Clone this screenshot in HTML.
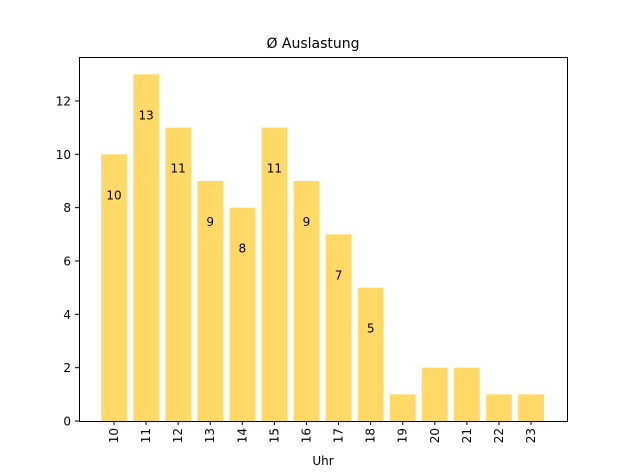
<!DOCTYPE html>
<html><head><meta charset="utf-8"><style>
body{margin:0;background:#fff;}
svg{display:block;font-family:"DejaVu Sans","Liberation Sans",sans-serif;}
</style></head><body>
<svg id="chart" width="630" height="473" xmlns="http://www.w3.org/2000/svg">
<text x="313" y="48" font-size="14" text-anchor="middle">Ø Auslastung</text>
<g id="bars"></g>
<g id="yaxis"></g>
<g id="xaxis"></g>
<rect x="79.5" y="57.5" width="488" height="364" fill="none" stroke="#000" stroke-width="1"/>
<text x="323" y="465" font-size="12" text-anchor="middle">Uhr</text>
</svg>
<script>
const categories = ["10","11","12","13","14","15","16","17","18","19","20","21","22","23"];
const values = [10,13,11,9,8,11,9,7,5,1,2,2,1,1];
const yTicks = [0,2,4,6,8,10,12];
const NS="http://www.w3.org/2000/svg";
const x0=114, step=32.08, bw=25.7;
function xs(i){return x0+i*step;}
function ys(v){return 421-v*26.67;}
function mk(tag,attrs,parent){const e=document.createElementNS(NS,tag);for(const k in attrs)e.setAttribute(k,attrs[k]);parent.appendChild(e);return e;}
const bars=document.getElementById('bars'),ya=document.getElementById('yaxis'),xa=document.getElementById('xaxis');
values.forEach((v,i)=>{
  const r=mk('rect',{x:xs(i)-bw/2,y:ys(v),width:bw,height:421-ys(v),fill:'#ffd966'},bars);
  
  
  if(v>=5){
    const t=mk('text',{x:xs(i),y:ys(v-1.5)+5,'font-size':12,'text-anchor':'middle'},bars);
    t.textContent=v;
    
    
  }
  const tk=mk('line',{x1:xs(i),x2:xs(i),y1:421,y2:425,stroke:'#000'},xa);
  
  
  const lb=mk('text',{x:0,y:0,'font-size':12,'text-anchor':'end',transform:`translate(${xs(i)+4},428) rotate(-90)`},xa);
  lb.textContent=categories[i];
  
  
});
yTicks.forEach(v=>{
  const tk=mk('line',{x1:75,x2:79.5,y1:ys(v),y2:ys(v),stroke:'#000'},ya);
  
  
  const lb=mk('text',{x:71,y:ys(v)+4.5,'font-size':12,'text-anchor':'end'},ya);
  lb.textContent=v;
  
  
});
</script>
</body></html>
